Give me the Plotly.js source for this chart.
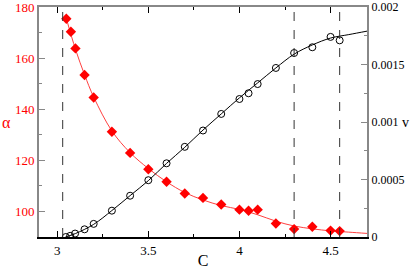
<!DOCTYPE html>
<html>
<head>
<meta charset="utf-8">
<script src="https://cdn.plot.ly/plotly-3.0.1.min.js"></script>
<style>
  html, body { margin: 0; padding: 0; background: #fff; }
  #chart { width: 415px; height: 269px; }
</style>
</head>
<body>
<div id="chart"></div>
<script>
// alpha (left axis), red diamonds
const alphaC = [3.05, 3.075, 3.10, 3.15, 3.20, 3.30, 3.40, 3.50, 3.60, 3.70, 3.80, 3.90, 4.00, 4.05, 4.10, 4.20, 4.30, 4.40, 4.50, 4.55];
const alphaVal = [175.4, 170.3, 163.8, 153.4, 144.6, 131.2, 122.9, 116.5, 111.6, 107.0, 105.3, 102.7, 100.7, 100.3, 100.7, 95.3, 93.1, 94.0, 92.5, 92.3];

// alpha fit line
const alphaFitC = [3.05, 3.10, 3.15, 3.20, 3.30, 3.40, 3.50, 3.60, 3.70, 3.80, 3.90, 4.00, 4.10, 4.20, 4.30, 4.40, 4.50, 4.60, 4.70];
const alphaFitVal = [175.5, 163.5, 153.5, 144.8, 131.5, 123.0, 116.8, 111.6, 107.4, 104.5, 102.3, 100.8, 98.7, 96.2, 94.3, 93.2, 92.4, 91.9, 91.4];

// v (right axis), open circles
const vC = [3.047, 3.071, 3.098, 3.15, 3.20, 3.30, 3.40, 3.50, 3.60, 3.70, 3.80, 3.90, 4.00, 4.05, 4.10, 4.20, 4.30, 4.40, 4.50, 4.55];
const vVal = [0.0, 0.00001, 0.00003, 0.000067, 0.000114, 0.000229, 0.000359, 0.000494, 0.000641, 0.000784, 0.000926, 0.00107, 0.0012, 0.00125, 0.00133, 0.00147, 0.0016, 0.00165, 0.00174, 0.00171];

// v fit line
const vFitC = [3.045, 3.10, 3.20, 3.30, 3.40, 3.50, 3.60, 3.70, 3.80, 3.90, 4.00, 4.10, 4.20, 4.30, 4.40, 4.50, 4.60, 4.70];
const vFitVal = [0.0, 0.00003, 0.00011, 0.00023, 0.00036, 0.00049, 0.00064, 0.00078, 0.00093, 0.00107, 0.00121, 0.00134, 0.00147, 0.00159, 0.00167, 0.00173, 0.00176, 0.00179];

// dashed markers
const dashC = [3.03, 4.30, 4.55];

const serif = "Liberation Serif, Times New Roman, serif";
const red = "#ff0000";

const data = [
    {
        x: alphaFitC, y: alphaFitVal, mode: "lines", line: {color: "#ff4040", width: 1, shape: "spline"},
        yaxis: "y", hoverinfo: "skip"
    },
    {
        x: alphaC, y: alphaVal, mode: "markers", marker: {symbol: "diamond", size: 8, color: red},
        yaxis: "y"
    },
    {
        x: vFitC, y: vFitVal, mode: "lines", line: {color: "#000", width: 1, shape: "spline"},
        yaxis: "y2", hoverinfo: "skip"
    },
    {
        x: vC, y: vVal, mode: "markers",
        marker: {symbol: "circle-open", size: 7, color: "#000", line: {width: 1, color: "#000"}},
        yaxis: "y2"
    }
];

const shapes = dashC.map(c => ({
    type: "line", xref: "x", yref: "paper", x0: c, x1: c, y0: 0, y1: 1,
    line: {color: "#333", width: 1, dash: "dash"}
}));

const layout = {
    width: 415, height: 269,
    margin: {l: 39, r: 48, t: 7, b: 32},
    paper_bgcolor: "#fff", plot_bgcolor: "#fff",
    showlegend: false,
    font: {family: serif, size: 13, color: "#000"},
    xaxis: {
        range: [2.9, 4.7], tickvals: [3, 3.5, 4, 4.5], ticktext: ["3", "3.5", "4", "4.5"],
        ticks: "inside", ticklen: 6, tickcolor: "#000",
        minor: {dtick: 0.25, ticks: "inside", ticklen: 3, tickcolor: "#000"},
        showline: true, linecolor: "#000", linewidth: 2, showgrid: false, zeroline: false,
        tickfont: {color: "#000", family: serif, size: 13},
        title: {text: "C", font: {family: serif, size: 16}, standoff: 3}
    },
    xaxis2: {
        range: [2.9, 4.7], overlaying: "x", side: "top", matches: "x",
        tickvals: [3, 3.5, 4, 4.5], showticklabels: false,
        ticks: "inside", ticklen: 6, tickcolor: "#000",
        minor: {dtick: 0.25, ticks: "inside", ticklen: 3, tickcolor: "#000"},
        showline: true, linecolor: "#888", linewidth: 2, showgrid: false, zeroline: false
    },
    yaxis: {
        range: [90, 180], dtick: 20, tick0: 0,
        ticks: "inside", ticklen: 6, tickcolor: "#888",
        minor: {dtick: 10, ticks: "inside", ticklen: 3, tickcolor: "#888"},
        showline: true, linecolor: "#888", linewidth: 2, showgrid: false, zeroline: false,
        ticklabeloverflow: "allow",
        tickfont: {color: red, family: serif, size: 13}
    },
    yaxis2: {
        range: [0, 0.002], overlaying: "y", side: "right",
        tickvals: [0, 0.0005, 0.001, 0.0015, 0.002], ticktext: ["0", "0.0005", "0.001", "0.0015", "0.002"],
        ticks: "inside", ticklen: 6, tickcolor: "#888",
        minor: {dtick: 0.00025, ticks: "inside", ticklen: 3, tickcolor: "#888"},
        showline: true, linecolor: "#888", linewidth: 2, showgrid: false, zeroline: false,
        ticklabeloverflow: "allow",
        tickfont: {color: "#000", family: serif, size: 12}
    },
    shapes: shapes,
    annotations: [
        {text: "α", xref: "paper", yref: "paper", x: -0.1, y: 0.5, showarrow: false,
         font: {family: serif, size: 16, color: red}, xanchor: "center", yanchor: "middle"},
        {text: "v", xref: "paper", yref: "paper", x: 1.118, y: 0.5, showarrow: false,
         font: {family: serif, size: 14, color: "#000"}, xanchor: "center", yanchor: "middle"}
    ]
};

// empty trace so the top axis is drawn
data.push({x: [], y: [], xaxis: "x2", yaxis: "y", hoverinfo: "skip"});

Plotly.newPlot("chart", data, layout, {staticPlot: true, displayModeBar: false});
</script>
</body>
</html>
